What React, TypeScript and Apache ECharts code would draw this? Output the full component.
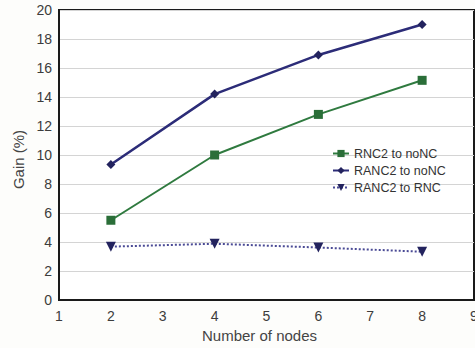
import React, { useEffect, useRef } from "react";
import * as echarts from "echarts";

const nodes = [2, 4, 6, 8];
const rnc2ToNoNC = [5.5, 10.0, 12.8, 15.15];
const ranc2ToNoNC = [9.35, 14.2, 16.9, 19.0];
const ranc2ToRNC = [3.68, 3.88, 3.62, 3.33];
const seriesNames = ["RNC2 to noNC", "RANC2 to noNC", "RANC2 to RNC"];

const FONT = "Liberation Sans, Arial, sans-serif";

export default function App() {
  const ref = useRef<HTMLDivElement>(null);
  useEffect(() => {
    if (!ref.current) return;
    const chart = echarts.init(ref.current, null, { renderer: "svg" });
    const pts = (ys: number[]) => nodes.map((x, i) => [x, ys[i]]);
    chart.setOption({
      animation: false,
      backgroundColor: "#fdfdfb",
      grid: {
        left: 59,
        right: 16,
        top: 10,
        bottom: 47,
        show: true,
        borderColor: "#1a1a1a",
        borderWidth: 2,
        backgroundColor: "#ffffff",
      },
      legend: {
        orient: "vertical",
        left: 332,
        top: 147,
        padding: 0,
        itemWidth: 16,
        itemHeight: 9,
        itemGap: 4,
        textStyle: { fontFamily: FONT, fontSize: 12.5, color: "#333" },
        data: seriesNames,
      },
      xAxis: {
        type: "value",
        min: 1,
        max: 9,
        interval: 1,
        name: "Number of nodes",
        nameLocation: "middle",
        nameGap: 28,
        nameTextStyle: {
          fontFamily: FONT,
          fontSize: 15,
          color: "#444",
          padding: [0, 14, 0, 0],
        },
        axisLine: { show: true, lineStyle: { color: "#1a1a1a", width: 2 } },
        axisTick: { show: false },
        splitLine: { show: false },
        axisLabel: { fontFamily: FONT, fontSize: 14, color: "#3c3c3c", margin: 9 },
      },
      yAxis: {
        type: "value",
        min: 0,
        max: 20,
        interval: 2,
        name: "Gain (%)",
        nameLocation: "middle",
        nameGap: 24,
        nameTextStyle: {
          fontFamily: FONT,
          fontSize: 15,
          color: "#444",
          padding: [0, 9, 0, 0],
        },
        axisLine: { show: true, lineStyle: { color: "#1a1a1a", width: 2 } },
        axisTick: { show: false },
        splitLine: { show: true, lineStyle: { color: "#d4d4d4", width: 1 } },
        axisLabel: { fontFamily: FONT, fontSize: 14, color: "#3c3c3c", margin: 7 },
      },
      series: [
        {
          name: seriesNames[0],
          type: "line",
          data: pts(rnc2ToNoNC),
          symbol: "rect",
          symbolSize: 9,
          lineStyle: { color: "#2f7a3f", width: 2 },
          itemStyle: { color: "#2a6e38" },
        },
        {
          name: seriesNames[1],
          type: "line",
          data: pts(ranc2ToNoNC),
          symbol: "diamond",
          symbolSize: 9,
          lineStyle: { color: "#2c2c78", width: 2.5 },
          itemStyle: { color: "#23235e" },
        },
        {
          name: seriesNames[2],
          type: "line",
          data: pts(ranc2ToRNC),
          symbol: "triangle",
          symbolRotate: 180,
          symbolSize: 10,
          lineStyle: { color: "#4a4a95", width: 2, type: "dotted" },
          itemStyle: { color: "#23235e" },
        },
      ],
    });
    return () => chart.dispose();
  }, []);
  return (
    <div
      ref={ref}
      style={{ position: "fixed", left: 0, top: 0, width: 490, height: 348 }}
    />
  );
}
